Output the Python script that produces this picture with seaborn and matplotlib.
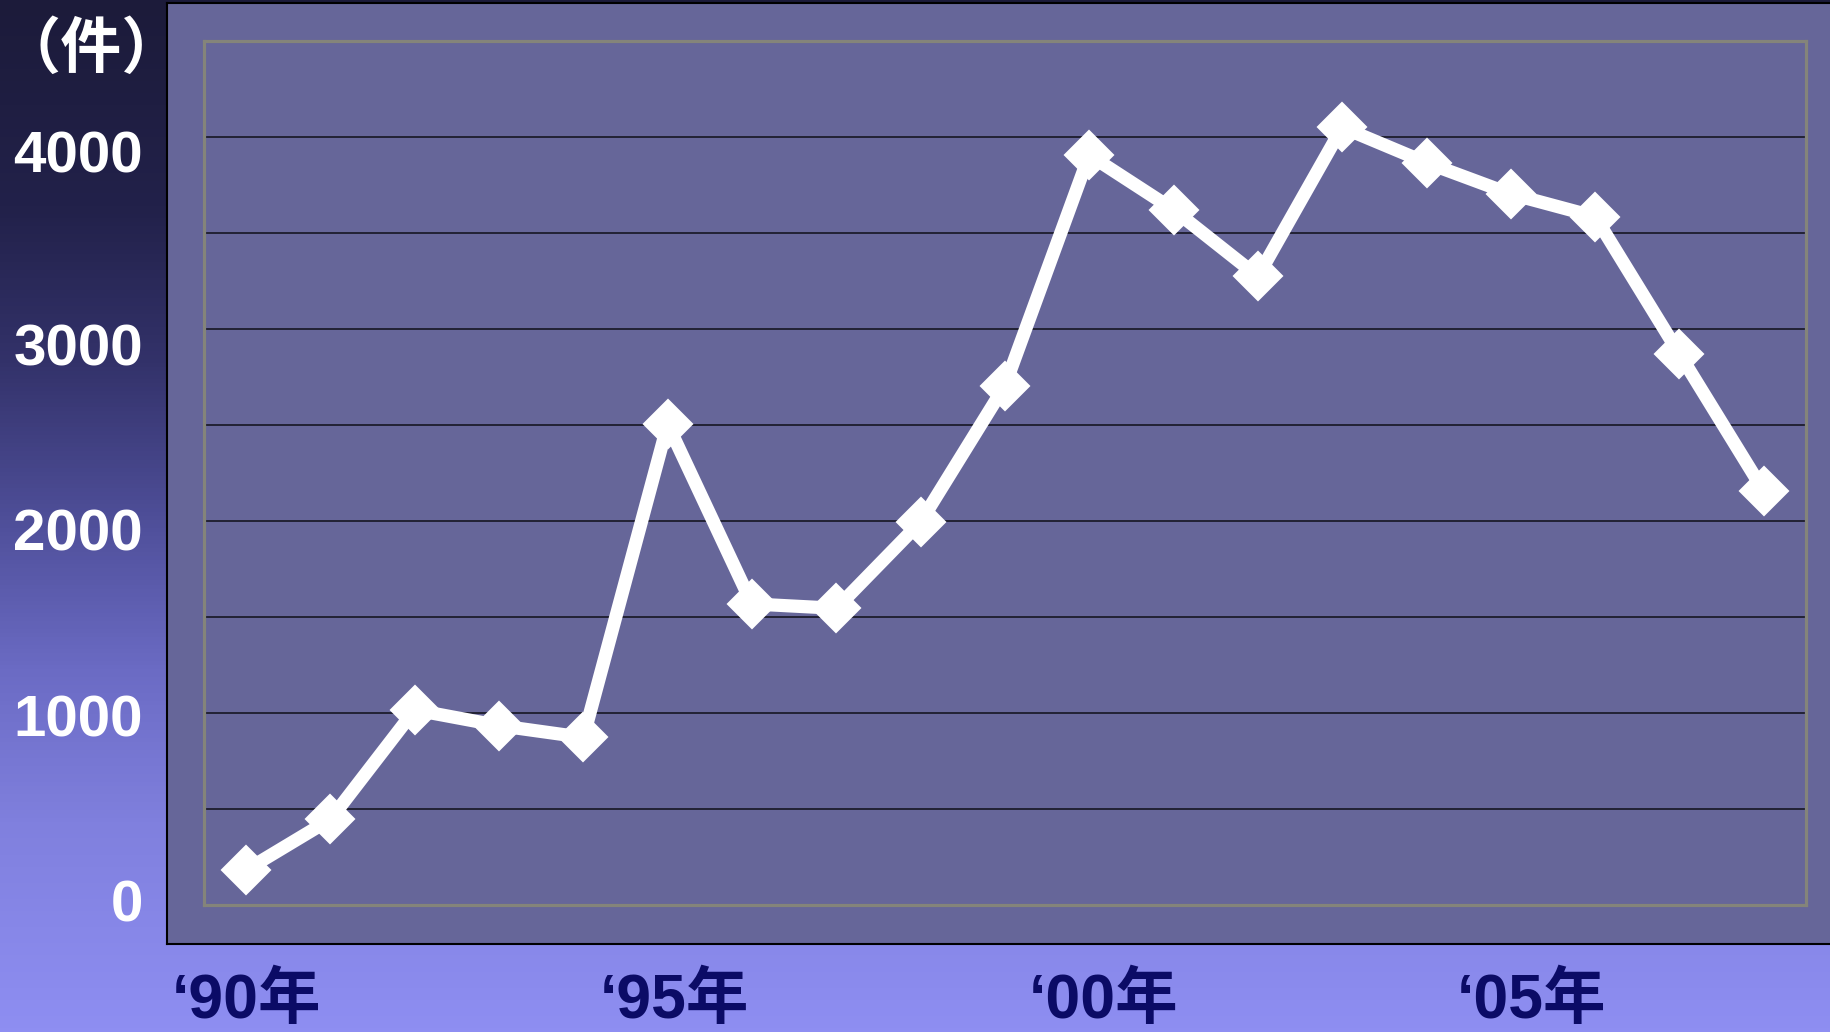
import numpy as np
import matplotlib.pyplot as plt
import seaborn as sns
from matplotlib.colors import LinearSegmentedColormap
from matplotlib.transforms import ScaledTranslation

sns.set_style("white")
plt.rcParams['font.family'] = ['Liberation Sans', 'Noto Sans CJK JP', 'DejaVu Sans']

years = list(range(1990, 2009))
counts = [182, 446, 1016, 934, 873, 2504, 1568, 1545, 1995, 2705,
          3906, 3621, 3274, 4050, 3866, 3703, 3585, 2870, 2156]
ytick_values = [0, 1000, 2000, 3000, 4000]
xtick_years = [1990, 1995, 2000, 2005]
xtick_labels = ["‘90年", "‘95年", "‘00年", "‘05年"]
unit_label = "（件）"

fig = plt.figure(figsize=(18.31, 10.32), dpi=100)

# slide background gradient
bg = fig.add_axes([0, 0, 1, 1], zorder=0)
grad = LinearSegmentedColormap.from_list(
    "slide", [(0.0, "#1c1b3a"), (0.2, "#22214a"), (0.35, "#33326a"),
              (0.5, "#4e4e98"), (0.65, "#6b6bc4"), (0.8, "#8080de"),
              (1.0, "#8e8ef2")])
bg.imshow(np.linspace(0, 1, 256).reshape(-1, 1), aspect="auto", cmap=grad,
          extent=[0, 1, 0, 1], origin="upper")
bg.set_axis_off()

# outer plot area
outer = fig.add_axes([0.0912, 0.0855, 0.93, 0.912], zorder=2)
outer.set_facecolor("#666699")
outer.set_xticks([])
outer.set_yticks([])
for s in outer.spines.values():
    s.set_color("black")
    s.set_linewidth(1.5)

# inner data axes
ax = fig.add_axes([0.1114, 0.1231, 0.8749, 0.8372], zorder=3)
ax.patch.set_alpha(0)
sns.lineplot(x=years, y=counts, ax=ax, color="white", linewidth=9.5,
             marker="D", markersize=24, markeredgecolor="white",
             markeredgewidth=1.5)
ax.set_xlim(1989.5, 2008.5)
ax.set_ylim(0, 4500)
for s in ax.spines.values():
    s.set_color("#84847a")
    s.set_linewidth(2.3)

grid_values = np.arange(0, 4001, 500)
ax.set_yticks(grid_values)
ax.set_yticklabels([str(int(v)) if v in ytick_values else "" for v in grid_values],
                   fontsize=42, fontweight="bold", color="white")
ax.grid(False)
ax.yaxis.grid(True, color="#1c1c2c", linewidth=1.3)
ax.set_axisbelow(True)
ax.tick_params(axis="y", length=0, pad=44)
# the slide's labels sit a little unevenly against the gridlines
label_drop = {"0": -3.5, "1000": 1.5, "2000": 6.5, "3000": 11.5, "4000": 10.5}
for lbl in ax.get_yticklabels():
    txt = lbl.get_text()
    if txt in label_drop:
        lbl.set_transform(lbl.get_transform() + ScaledTranslation(
            0, -label_drop[txt] / 72, fig.dpi_scale_trans))

ax.set_xticks(xtick_years)
ax.set_xticklabels(xtick_labels, fontsize=45, fontweight="bold",
                   color="#0b0b66")
ax.tick_params(axis="x", length=0, pad=48)
for i, lbl in enumerate(ax.get_xticklabels()):
    nudge = ScaledTranslation(i * 5 / 72, 0, fig.dpi_scale_trans)
    lbl.set_transform(lbl.get_transform() + nudge)
ax.set_xlabel("")
ax.set_ylabel("")

fig.text(0.050, 0.951, unit_label, fontsize=44, fontweight="bold",
         color="white", ha="center", va="center",
         family=["Noto Sans CJK JP"], zorder=4)

fig.savefig("out.png", dpi=100)
